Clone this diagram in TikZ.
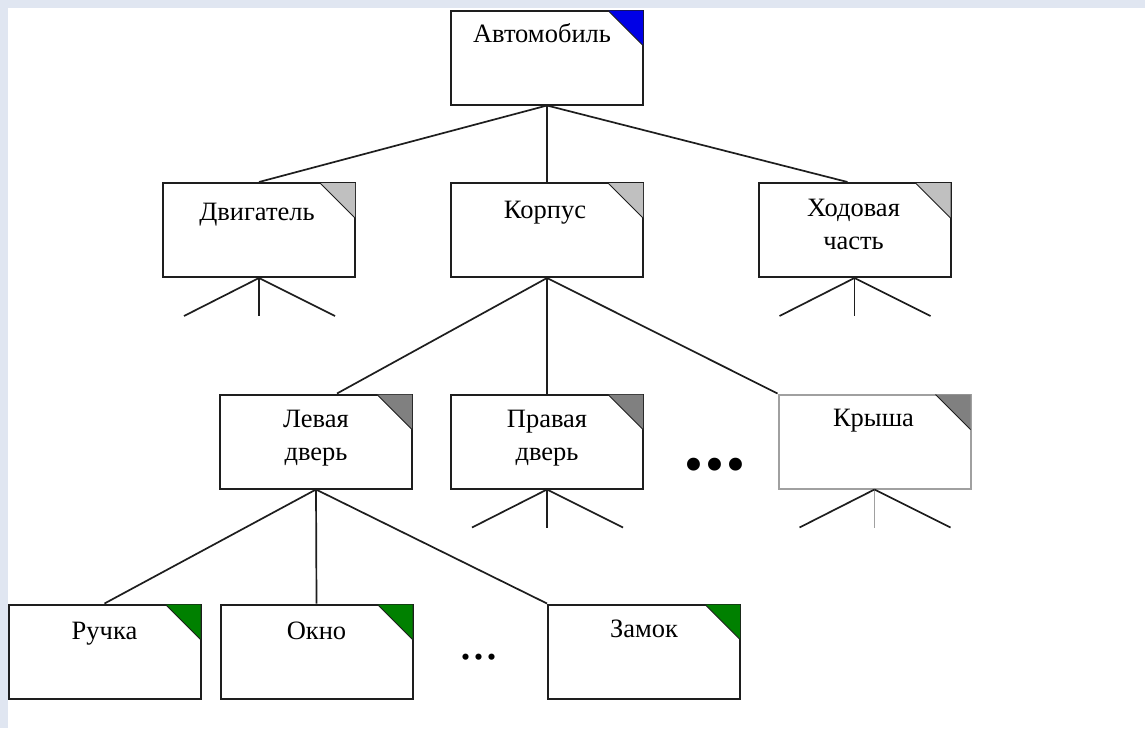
\documentclass[tikz,border=0pt]{standalone}
\usepackage{fontspec}
\setmainfont{Liberation Serif}
\usetikzlibrary{calc}
\definecolor{bgblue}{RGB}{224,230,241}
\definecolor{cblue}{RGB}{0,0,230}
\definecolor{clight}{RGB}{192,192,192}
\definecolor{cdark}{RGB}{128,128,128}
\definecolor{cgreen}{RGB}{0,128,0}
\definecolor{edgegray}{RGB}{160,160,160}
\definecolor{ink}{RGB}{30,30,30}
\tikzset{
  box/.style={draw=ink, line width=2pt, fill=white, minimum width=192pt, minimum height=94pt, inner sep=0pt},
  lbl/.style={anchor=base, font=\fontsize{26.5}{33}\selectfont, align=center, inner sep=0pt, text=black},
  conn/.style={draw=ink, line width=1.7pt},
  stub/.style={draw=ink, line width=1.7pt},
}
\newcommand{\corner}[2]{%
  \fill[#2] ($(#1.north east)+(-36,1)$) -- ($(#1.north east)+(-1,1)$) -- ($(#1.north east)+(-1,36)$) -- cycle;
  \draw[ink, line width=1pt] ($(#1.north east)+(-36,1)$) -- ($(#1.north east)+(-1,36)$);}
\newcommand{\stubs}[2]{%
  \coordinate (#1-sa) at ($(#1.south)+(-75,38)$);
  \coordinate (#1-sb) at ($(#1.south)+(0,38)$);
  \coordinate (#1-sc) at ($(#1.south)+(76,38)$);
  \draw[stub] (#1.south) -- (#1-sa);
  \draw[stub,#2] (#1.south) -- (#1-sb);
  \draw[stub] (#1.south) -- (#1-sc);}
\begin{document}
\begin{tikzpicture}[x=1pt,y=-1pt]
\fill[bgblue] (0,0) rectangle (1145,728);
\fill[white] (8,8) rectangle (1145,728);
\useasboundingbox (0,0) rectangle (1145,728);

% boxes
\node[box] (avto) at (547,57.5) {};
\node[box] (dvig) at (259,230) {};
\node[box] (korp) at (547,230) {};
\node[box] (khod) at (854.5,230) {};
\node[box] (lev) at (316,441.5) {};
\node[box] (prav) at (547,441.5) {};
\node[box, draw=edgegray] (krysha) at (874.5,441.5) {};
\node[box] (ruch) at (104.5,651.5) {};
\node[box] (okno) at (316.5,651.5) {};
\node[box] (zamok) at (644,651.5) {};

% corner marks
\corner{avto}{cblue}
\corner{dvig}{clight}
\corner{korp}{clight}
\corner{khod}{clight}
\corner{lev}{cdark}
\corner{prav}{cdark}
\corner{krysha}{cdark}
\corner{ruch}{cgreen}
\corner{okno}{cgreen}
\corner{zamok}{cgreen}

% labels
\node[lbl] (avto-t) at ($(avto.north)+(-5,33)$) {Автомобиль};
\node[lbl] (dvig-t) at ($(dvig.north)+(-2,38)$) {Двигатель};
\node[lbl] (korp-t) at ($(korp.north)+(-2,36)$) {Корпус};
\node[lbl] (khod-t) at ($(khod.north)+(-1,67)$) {Ходовая\\часть};
\node[lbl] (lev-t) at ($(lev.north)+(0,67)$) {Левая\\дверь};
\node[lbl] (prav-t) at ($(prav.north)+(0,67)$) {Правая\\дверь};
\node[lbl] (krysha-t) at ($(krysha.north)+(-1,33)$) {Крыша};
\node[lbl] (ruch-t) at ($(ruch.north)+(0,36)$) {Ручка};
\node[lbl] (okno-t) at ($(okno.north)+(0,36)$) {Окно};
\node[lbl] (zamok-t) at ($(zamok.north)+(0,34)$) {Замок};

% ellipses
\node[anchor=center, inner sep=0pt, font=\fontsize{54}{54}\selectfont] (dots1) at (715,470) {•\kern2pt•\kern2pt•};
\node[anchor=center, inner sep=0pt, font=\fontsize{52}{52}\selectfont] (dots2) at (479,657) {.\kern0pt.\kern0pt.};

% connectors
\draw[conn] (avto.south) -- (dvig.north);
\draw[conn] (avto.south) -- (korp.north);
\coordinate (khod-in) at ($(khod.north)+(-7,0)$);
\draw[conn] (avto.south) -- (khod-in);
\coordinate (lev-in) at ($(lev.north)+(21,0)$);
\draw[conn] (korp.south) -- (lev-in);
\draw[conn] (korp.south) -- (prav.north);
\draw[conn] (korp.south) -- (krysha.north west);
\draw[conn] (lev.south) -- (ruch.north);
\draw[conn] (lev.south) -- (okno.north);
\draw[conn] (lev.south) -- (zamok.north west);

% stubs
\stubs{dvig}{}
\stubs{khod}{}
\stubs{prav}{}
\stubs{krysha}{draw=edgegray}
\end{tikzpicture}
\end{document}
